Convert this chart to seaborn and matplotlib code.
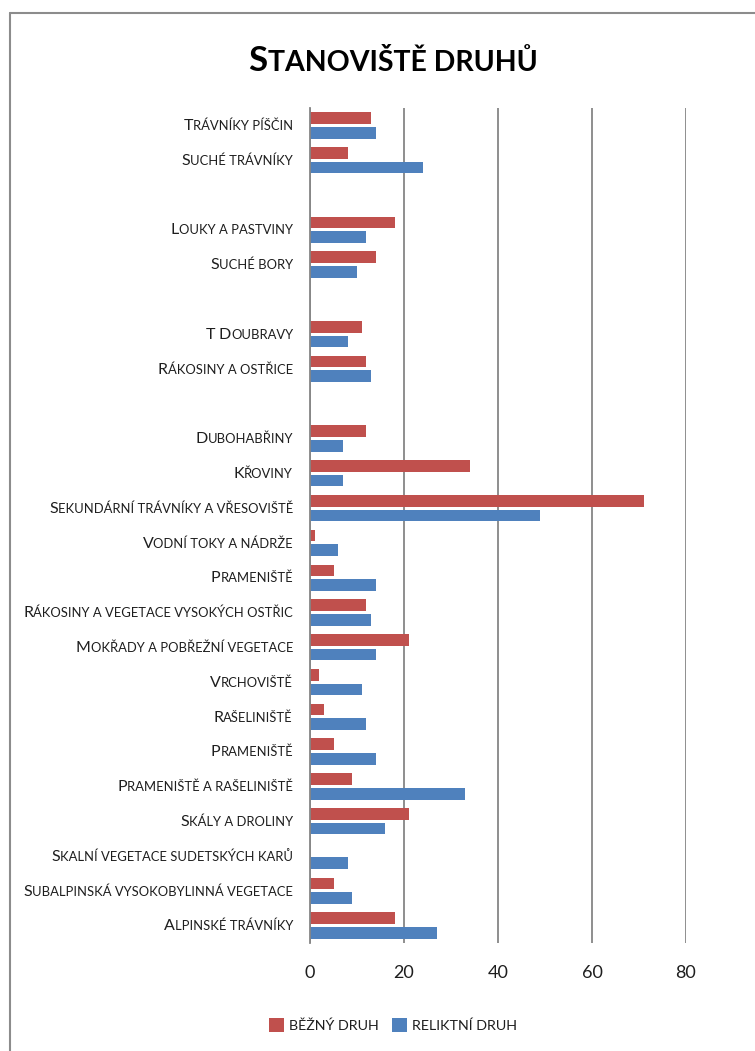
import numpy as np
import pandas as pd
import matplotlib
matplotlib.use("Agg")
import matplotlib.pyplot as plt
import seaborn as sns
from matplotlib.font_manager import FontProperties
from matplotlib.transforms import offset_copy
from matplotlib.lines import Line2D
from matplotlib.patches import Patch

nan = np.nan

# ---------------- data ----------------
title = "Stanoviště druhů"
categories = [
    "Trávníky píščin", "Suché trávníky", "",
    "Louky a pastviny", "Suché bory", "",
    "T Doubravy", "Rákosiny a ostřice", "",
    "Dubohabřiny", "Křoviny", "Sekundární trávníky a vřesoviště",
    "Vodní toky a nádrže", "Prameniště", "Rákosiny a vegetace vysokých ostřic",
    "Mokřady a pobřežní vegetace", "Vrchoviště", "Rašeliniště", "Prameniště",
    "Prameniště a rašeliniště", "Skály a droliny", "Skalní vegetace sudetských karů",
    "Subalpinská vysokobylinná vegetace", "Alpinské trávníky",
]
bezny_druh = [13, 8, nan, 18, 14, nan, 11, 12, nan, 12, 34, 71, 1, 5, 12, 21, 2, 3, 5, 9, 21, 0, 5, 18]
reliktni_druh = [14, 24, nan, 12, 10, nan, 8, 13, nan, 7, 7, 49, 6, 14, 13, 14, 11, 12, 14, 33, 16, 8, 9, 27]
series_names = ["běžný druh", "reliktní druh"]
xticks = [0, 20, 40, 60, 80]

colors = ["#C0504D", "#4F81BD"]
FAM = ["Lato", "DejaVu Sans"]
TXT = "#1e1e1e"

# ---------------- figure ----------------
W, H, DPI = 755, 1051, 100
sns.set_theme(style="white")
plt.rcParams["font.family"] = FAM
fig = plt.figure(figsize=(W / DPI, H / DPI), dpi=DPI, facecolor="white")
ax = fig.add_axes([310 / W, 1 - 943 / H, (686 - 310) / W, (943 - 108) / H])

keys = [f"k{i}" for i in range(len(categories))]
df = pd.DataFrame({
    "key": keys * 2,
    "value": bezny_druh + reliktni_druh,
    "series": [series_names[0]] * len(keys) + [series_names[1]] * len(keys),
})
sns.barplot(data=df, y="key", x="value", hue="series", order=keys,
            hue_order=series_names, palette=colors, orient="h",
            width=0.84, gap=0.2, saturation=1, ax=ax, legend=False,
            edgecolor="none", linewidth=0)

ax.set_xlim(0, 80)
ax.set_xticks(xticks)
ax.set_xticklabels([str(t) for t in xticks], fontsize=13, color=TXT)
ax.tick_params(axis="x", length=0, pad=16)
ax.tick_params(axis="y", length=0)
ax.set_yticklabels([])
ax.set_xlabel("")
ax.set_ylabel("")
ax.grid(axis="x", color="#868686", linewidth=1.3)
ax.grid(axis="y", visible=False)
ax.set_axisbelow(True)
for s in ["top", "right", "bottom"]:
    ax.spines[s].set_visible(False)
ax.spines["left"].set_color("#868686")
ax.spines["left"].set_linewidth(1.3)
ax.set_facecolor("white")

renderer = fig.canvas.get_renderer()


def _width(t, fp):
    w1, _, _ = renderer.get_text_width_height_descent("|" + t + "|", fp, ismath=False)
    w0, _, _ = renderer.get_text_width_height_descent("||", fp, ismath=False)
    return w1 - w0


def smallcaps(x, y, s, big, small, transform, ha="right", weight="normal",
              color=TXT, dx=0.0, dy=0.0):
    runs = []
    for ch in s:
        isbig = ch.isupper() or ch.isdigit()
        if runs and runs[-1][1] == isbig:
            runs[-1][0] += ch
        else:
            runs.append([ch, isbig])
    fps = {True: FontProperties(family=FAM, size=big, weight=weight),
           False: FontProperties(family=FAM, size=small, weight=weight)}
    widths = [_width(r[0].upper(), fps[r[1]]) for r in runs]
    total = sum(widths)
    pos = {"right": -total, "center": -total / 2, "left": 0}[ha] + dx
    for (t, isbig), w in zip(runs, widths):
        tr = offset_copy(transform, fig=fig, x=pos, y=dy, units="dots")
        fig.text(x, y, t.upper(), transform=tr, ha="left", va="baseline",
                 fontproperties=fps[isbig], color=color)
        pos += w


BIG, SMALL = 11.5, 9.4
ytr = ax.get_yaxis_transform()
for i, lab in enumerate(categories):
    if lab:
        smallcaps(0, i, lab, BIG, SMALL, ytr, ha="right", dx=-17,
                  dy=-0.36 * SMALL * DPI / 72)

# title
smallcaps(393 / W, 1 - 71 / H, title, 25, 20.5, fig.transFigure, ha="center", weight="bold",
          color="black")

# legend
handles = [Patch(facecolor=c, edgecolor="none") for c in colors]
fig.legend(handles, [s.upper() for s in series_names], loc="center",
           bbox_to_anchor=(393 / W, 1 - 1025 / H), ncol=2, frameon=False,
           fontsize=10.3, handlelength=1.05, handleheight=1.2, handletextpad=0.35,
           columnspacing=0.9, labelcolor=TXT)

# chart frame
fig.add_artist(Line2D([10 / W, 10 / W], [0, 1 - 13 / H], transform=fig.transFigure,
                      color="#8c8c8c", linewidth=1.5))
fig.add_artist(Line2D([10 / W, 1], [1 - 13 / H, 1 - 13 / H], transform=fig.transFigure,
                      color="#8c8c8c", linewidth=1.5))

fig.savefig("out.png", dpi=DPI, facecolor="white")
